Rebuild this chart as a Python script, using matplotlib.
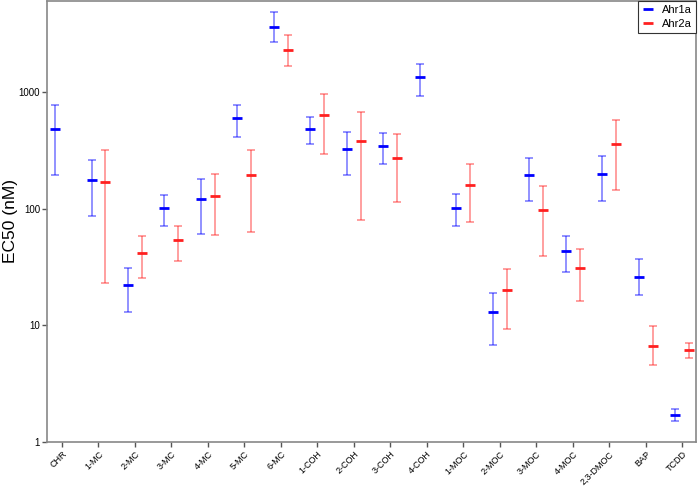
""" EC50 of Ahr1a / Ahr2a per compound, log scale error bars """

import matplotlib.pyplot as plt
import matplotlib.ticker as ticker
from matplotlib.lines import Line2D
import numpy as np

plt.rcParams['font.family'] = ['Liberation Sans', 'DejaVu Sans']

compounds = ["CHR", "1-MC", "2-MC", "3-MC", "4-MC", "5-MC", "6-MC", "1-COH",
             "2-COH", "3-COH", "4-COH", "1-MOC", "2-MOC", "3-MOC", "4-MOC",
             "2,3-DMOC", "BAP", "TCDD"]

ahr1a_ec50 = [478, 175, 22, 101, 120, 594, 3580, 481, 324, 344, 1334, 102,
              13, 194, 43.7, 198, 25.8, 1.70]
ahr1a_low = [193, 86, 12.9, 71.5, 60, 411, 2660, 356, 193, 241, 929, 71.5,
             6.8, 117, 28.4, 116, 18.2, 1.50]
ahr1a_high = [764, 263, 31, 130, 179, 778, 4840, 614, 457, 448, 1746, 133,
              19, 272, 58.7, 281, 36.8, 1.92]

# no Ahr2a value for CHR and 4-COH
ahr2a_ec50 = [None, 170, 41.7, 53.8, 127, 194, 2260, 630, 380, 273, None, 159,
              20, 98, 30.8, 358, 6.7, 6.19]
ahr2a_low = [None, 23, 25.6, 35.8, 59, 63, 1680, 296, 80.5, 113, None, 76.4,
             9.3, 39, 16.1, 144, 4.54, 5.29]
ahr2a_high = [None, 320, 58, 71.5, 197, 320, 3055, 967, 678, 433, None, 243,
              30.6, 157, 45.4, 571, 9.9, 7.1]


def draw_series(ax, x, mid, low, high, color):
    for xi, m, lo, hi in zip(x, mid, low, high):
        if m is None:
            continue
        ax.errorbar(xi, m, yerr=[[m - lo], [hi - m]], fmt='none',
                    ecolor=color, alpha=0.5, elinewidth=1.2,
                    capsize=3.2, capthick=1.2)
        ax.plot(xi, m, marker='_', markersize=7.5, markeredgewidth=2,
                color=color, linestyle='none')


fig = plt.figure(figsize=(6.98, 4.87), dpi=100)
ax = fig.add_axes([0.0673, 0.0924, 0.9297, 0.9056])

x = np.arange(len(compounds))
draw_series(ax, x - 0.19, ahr1a_ec50, ahr1a_low, ahr1a_high, '#0000ff')
draw_series(ax, x + 0.19, ahr2a_ec50, ahr2a_low, ahr2a_high, '#ff2020')

ax.set_yscale('log')
ax.set_ylim(1, 6000)
ax.set_xlim(-0.41, 17.37)
ax.yaxis.set_major_locator(ticker.FixedLocator([1, 10, 100, 1000]))
ax.yaxis.set_major_formatter(ticker.FixedFormatter(["1", "10", "100", "1000"]))
ax.yaxis.set_minor_locator(ticker.NullLocator())
ax.set_xticks(x)
ax.set_xticklabels(compounds, rotation=45, ha='right', rotation_mode='anchor',
                   fontsize=6.5)
ax.tick_params(axis='y', labelsize=7, pad=1.5)
ax.tick_params(axis='x', pad=2)
ax.tick_params(axis='both', color='#555555', length=3.5, width=1)
ax.set_ylabel("EC50 (nM)", fontsize=12.5)
ax.yaxis.set_label_coords(-0.045, 0.5)
for s in ax.spines.values():
    s.set_color('#888888')
    s.set_linewidth(1.2)

handles = [Line2D([], [], color='#0000ff', marker='_', linestyle='none',
                  markersize=7, markeredgewidth=2),
           Line2D([], [], color='#ff2020', marker='_', linestyle='none',
                  markersize=7, markeredgewidth=2)]
leg = ax.legend(handles, ["Ahr1a", "Ahr2a"], loc='upper right', fontsize=8,
                fancybox=False, framealpha=1, edgecolor='#333333',
                borderaxespad=0, handlelength=1.0, labelspacing=0.4,
                borderpad=0.35)
leg.get_frame().set_linewidth(0.8)

fig.savefig("out.png", dpi=100)
